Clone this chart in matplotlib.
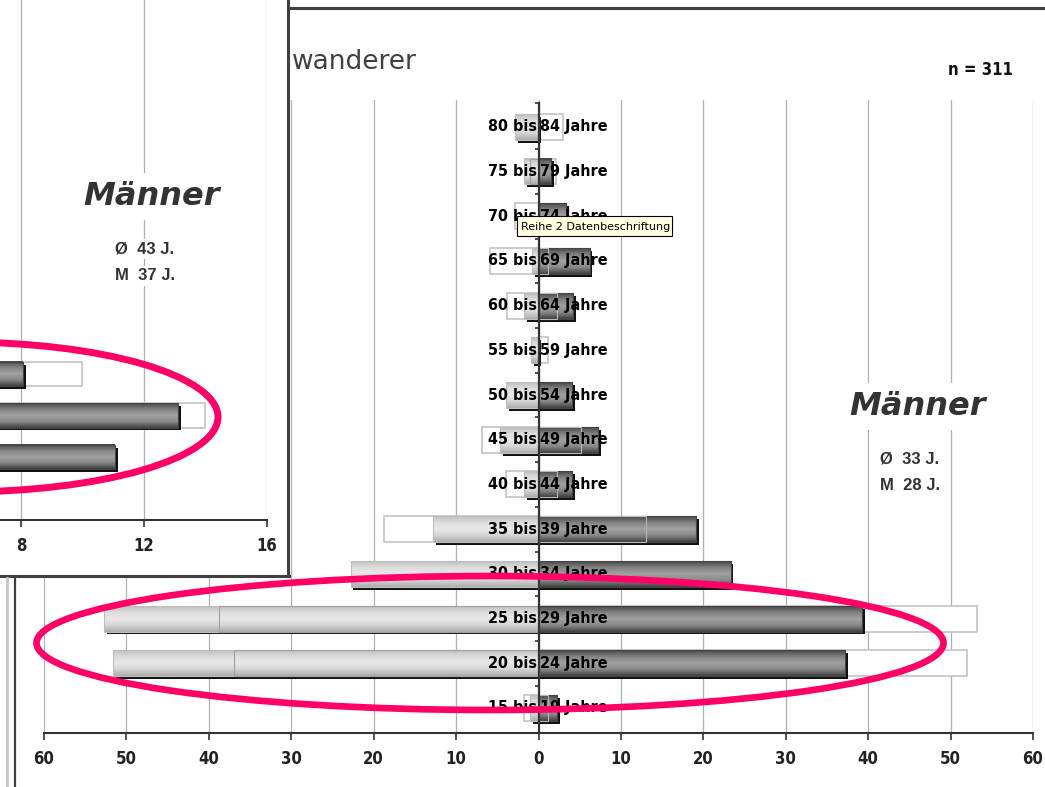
import numpy as np
import matplotlib
matplotlib.use('Agg')
from matplotlib import pyplot as plt
from matplotlib import font_manager
from matplotlib.font_manager import FontProperties
from matplotlib.patches import Ellipse, Rectangle
from matplotlib.colors import LinearSegmentedColormap

W, H = 1045, 787

# main chart, rows from bottom (15 bis 19) to top (80 bis 84)
age_from = ['15', '20', '25', '30', '35', '40', '45', '50', '55', '60', '65', '70', '75', '80']
age_to = ['19', '24', '29', '34', '39', '44', '49', '54', '59', '64', '69', '74', '79', '84']
left_outline = [1.8, 0, 0, 0, 18.8, 3.9, 6.8, 0, 0, 3.8, 5.9, 2.8, 0, 0]
left_bars = [1.0, 51.6, 52.7, 22.8, 12.8, 1.8, 4.7, 3.9, 0.9, 1.8, 0.8, 0, 1.8, 2.8]
left_inner = [0, 37.0, 38.8, 0, 0, 0, 0, 0, 0, 0, 0, 0, 1.0, 0]
right_bars = [2.2, 37.2, 39.3, 23.3, 19.1, 4.1, 7.2, 4.1, 0, 4.2, 6.2, 3.3, 1.5, 0]
right_inner = [1.2, 0, 0, 0, 13.1, 2.3, 5.1, 0, 0, 2.2, 1.2, 0, 0, 0]
right_outline = [0, 52.0, 53.2, 0, 0, 0, 0, 0, 1.2, 0, 0, 0, 2.1, 3.0]
x_ticks = list(range(-60, 61, 10))
main_stats = ['Ø  33 J.', 'M  28 J.']
n_label = 'n = 311'

# inset window (partly visible chart), rows bottom to top
inset_bars = [11.05, 13.1, 8.05]
inset_outline = [0, 14.0, 10.0]
inset_ticks = [8, 12, 16]
inset_stats = ['Ø  43 J.', 'M  37 J.']


def narrow_bold(size):
    # look for a narrow / condensed bold face, else plain Liberation Sans bold
    for f in font_manager.fontManager.ttflist:
        fn = f.fname.replace(' ', '')
        if ('Narrow-Bold.' in fn and 'Italic' not in fn) or 'SansCondensed-Bold.' in fn:
            return FontProperties(fname=f.fname, size=size)
    return FontProperties(family=['Liberation Sans', 'DejaVu Sans'], weight='bold',
                          size=size * 0.86)


PINK = '#ff0066'
GRAD = np.linspace(0, 1, 64).reshape(-1, 1)
light_cmap = LinearSegmentedColormap.from_list(
    'light', ['#acacac', '#d4d4d4', '#e8e8e8', '#dedede', '#c0c0c0'])
dark_cmap = LinearSegmentedColormap.from_list(
    'dark', ['#404040', '#888888', '#a2a2a2', '#828282', '#484848'])


def gradient_bar(ax, y, length, height, cmap, edge, z, start=0.0):
    if length == 0:
        return
    x0, x1 = sorted((start, start + length))
    ax.imshow(GRAD, extent=(x0, x1, y - height / 2, y + height / 2), origin='lower',
              aspect='auto', cmap=cmap, interpolation='bilinear', zorder=z)
    ax.add_patch(Rectangle((x0, y - height / 2), x1 - x0, height, fill=False,
                           edgecolor=edge, lw=0.8, zorder=z + 0.1))


def outline_bar(ax, y, length, height, z=2):
    if length == 0:
        return
    ax.barh(y, length, height=height, color='white', edgecolor='#c4c4c4', lw=1.2, zorder=z)


def shadow(ax, y, length, height, dx, dy, z=3):
    if length == 0:
        return
    ax.barh(y - dy, length, left=dx, height=height, color='#111111', lw=0, zorder=z)


fig = plt.figure(figsize=(W / 100, H / 100), dpi=100)
fig.patch.set_facecolor('white')

label_font = narrow_bold(11.5)
tick_font = narrow_bold(12)

# ---------------- main chart ----------------
ax = fig.add_axes([44 / W, 1 - 733 / H, (1033 - 44) / W, (733 - 100) / H], zorder=0)
rows = np.arange(len(age_from))
bh = 0.58
dx, dy = 0.35, 0.065
for i in rows:
    outline_bar(ax, i, -left_outline[i], bh)
    outline_bar(ax, i, right_outline[i], bh)
    shadow(ax, i, -left_bars[i], bh, dx, dy)
    shadow(ax, i, right_bars[i], bh, dx, dy)
    gradient_bar(ax, i, -left_bars[i], bh, light_cmap, '#bdbdbd', 4)
    gradient_bar(ax, i, right_bars[i], bh, dark_cmap, '#444444', 4)
    gradient_bar(ax, i, -left_inner[i], bh, light_cmap, '#a0a0a0', 5)
    gradient_bar(ax, i, right_inner[i], bh, dark_cmap, '#b8b8b8', 5)
    ax.text(-0.15, i, f'{age_from[i]} bis', ha='right', va='center',
            fontproperties=label_font, color='black', zorder=8)
    ax.text(0.2, i, f'{age_to[i]} Jahre', ha='left', va='center',
            fontproperties=label_font, color='black', zorder=8)

ylo, yhi = -0.56, 13.6
ax.plot([0, 0], [ylo, 13.54], color='#333333', lw=1.6, zorder=7)
ax.hlines(rows[:-1] + 0.5, -0.4, 0, color='#333333', lw=1.2, zorder=7)
ax.hlines([13.54], -0.4, 0, color='#333333', lw=1.2, zorder=7)

ax.set_xlim(-60, 60)
ax.set_ylim(ylo, yhi)
ax.set_xticks(x_ticks)
ax.set_xticklabels([str(abs(v)) for v in x_ticks], fontproperties=tick_font, color='#222222')
ax.set_yticks([])
ax.tick_params(axis='x', length=5, width=1.2, color='#333333', pad=7)
ax.grid(axis='x', color='#b0b0b0', lw=0.9, zorder=0)
ax.set_axisbelow(True)
for side in ('top', 'left', 'right'):
    ax.spines[side].set_visible(False)
ax.spines['bottom'].set_color('#333333')
ax.spines['bottom'].set_linewidth(1.5)

# ---------------- inset window ----------------
ax_win = fig.add_axes([0, 1 - 575 / H, 289 / W, 575 / H], zorder=3)
ax_win.set_facecolor('white')
ax_win.set_xticks([])
ax_win.set_yticks([])
for s in ax_win.spines.values():
    s.set_visible(False)

ax_in = fig.add_axes([0, 1 - 520 / H, 267 / W, 520 / H], zorder=4)
ax_in.patch.set_alpha(0)
irows = np.arange(len(inset_bars))
ibh = 0.58
for i in irows:
    outline_bar(ax_in, i, inset_outline[i], ibh)
    shadow(ax_in, i, inset_bars[i], ibh, 0.1, 0.07)
    gradient_bar(ax_in, i, inset_bars[i], ibh, dark_cmap, '#444444', 4)
ax_in.set_xlim(8 - 21 / 30.75, 16)
ax_in.set_ylim(-1.518, 11.01)
ax_in.set_xticks(inset_ticks)
ax_in.set_xticklabels([str(v) for v in inset_ticks], fontproperties=tick_font, color='#222222')
ax_in.set_yticks([])
ax_in.tick_params(axis='x', length=5, width=1.2, color='#333333', pad=7)
ax_in.grid(axis='x', color='#b0b0b0', lw=0.9, zorder=0)
ax_in.set_axisbelow(True)
for side in ('top', 'left', 'right'):
    ax_in.spines[side].set_visible(False)
ax_in.spines['bottom'].set_color('#333333')
ax_in.spines['bottom'].set_linewidth(1.5)

# ---------------- overlay in pixel coordinates ----------------
ov = fig.add_axes([0, 0, 1, 1], zorder=10)
ov.set_xlim(0, W)
ov.set_ylim(H, 0)
ov.axis('off')

# window frames
ov.plot([288, 288], [0, 576], color='#404040', lw=2.2)
ov.plot([0, 289], [576, 576], color='#404040', lw=2.2)
ov.plot([290, W], [8, 8], color='#404040', lw=2.2)
ov.plot([7, 7], [578, H], color='#c4c4c4', lw=2)
ov.plot([15, 15], [578, H], color='#404040', lw=1.6)

ov.text(292, 62, 'wanderer', ha='left', va='center', fontsize=19, color='#404040')
ov.text(1013, 70, n_label, ha='right', va='center', fontproperties=narrow_bold(12),
        color='#111111')

for cx, base in ((918, 415), (152, 205)):
    ov.text(cx, base, 'Männer', ha='center', va='baseline', fontsize=23, fontweight='bold',
            style='oblique', color='#333333',
            bbox=dict(boxstyle='square,pad=0.25', fc='white', ec='none'))
stats_sets = ((main_stats, 880, (463, 490)), (inset_stats, 115, (253, 280)))
for stats, sx, sys_ in stats_sets:
    for txt, sy in zip(stats, sys_):
        ov.text(sx, sy, txt, ha='left', va='baseline', fontsize=12, fontweight='bold',
                family=['Liberation Sans', 'DejaVu Sans'], color='#333333',
                bbox=dict(boxstyle='square,pad=0.15', fc='white', ec='none'))

# highlight ellipses
ov.add_patch(Ellipse((490, 643), 907, 134, fill=False, edgecolor=PINK, lw=4.8))
ov.add_patch(Ellipse((-40, 417), 516, 150, fill=False, edgecolor=PINK, lw=5))

# tooltip
ov.add_patch(Rectangle((517, 216), 155, 20, facecolor='#ffffe1', edgecolor='black', lw=0.8))
ov.text(521, 226.5, 'Reihe 2 Datenbeschriftung', ha='left', va='center', fontsize=8,
        color='black')

fig.savefig('out.png', dpi=100)
